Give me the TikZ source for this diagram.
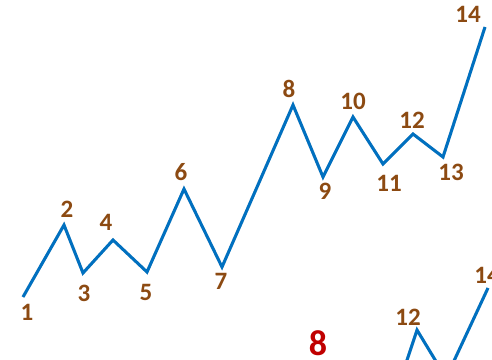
\documentclass[tikz,border=0pt]{standalone}
\usepackage{fontspec}
\setmainfont{Carlito}
\definecolor{waveblue}{HTML}{0070C0}
\definecolor{labelbrown}{HTML}{8C4A12}
\definecolor{markred}{HTML}{C00000}
\tikzset{
    wave/.style={line width=3pt, waveblue, line join=miter},
    waveshadow/.style={line width=3pt, black!15, shift={(2.5,-2.5)}},
    lbl/.style={font=\bfseries\fontsize{25}{26}\selectfont, text=labelbrown, inner sep=0pt},
}
\begin{document}
\begin{tikzpicture}[x=1pt,y=1pt]
    \useasboundingbox (0,0) rectangle (492,359);
    \clip (0,0) rectangle (492,359);
    % turning points of the upper wave
    \coordinate (p1) at (23,62);
    \coordinate (p2) at (64,134);
    \coordinate (p3) at (83,86);
    \coordinate (p4) at (113,119);
    \coordinate (p5) at (147,87);
    \coordinate (p6) at (184,170);
    \coordinate (p7) at (222,92);
    \coordinate (p8) at (293,254);
    \coordinate (p9) at (323,182);
    \coordinate (p10) at (353,242);
    \coordinate (p11) at (383,195);
    \coordinate (p12) at (413,225);
    \coordinate (p13) at (443,202);
    \coordinate (p14) at (485,332);
    % second wave, cut off at the bottom
    \coordinate (q11) at (406,-4);
    \coordinate (q12) at (417,29);
    \coordinate (q13) at (437,-4);
    \coordinate (q13b) at (453,-4);
    \coordinate (q14) at (488,71);
    % shadow
    \draw[waveshadow] (p1) -- (p2) -- (p3) -- (p4) -- (p5) -- (p6) -- (p7)
        -- (p8) -- (p9) -- (p10) -- (p11) -- (p12) -- (p13) -- (p14);
    \draw[waveshadow] (q11) -- (q12) -- (q13);
    \draw[waveshadow] (q13b) -- (q14);
    % waves
    \draw[wave] (p1) -- (p2) -- (p3) -- (p4) -- (p5) -- (p6) -- (p7)
        -- (p8) -- (p9) -- (p10) -- (p11) -- (p12) -- (p13) -- (p14);
    \draw[wave] (q11) -- (q12) -- (q13);
    \draw[wave] (q13b) -- (q14);
    % point numbers
    \node[lbl] (n1) at (27,47) {1};
    \node[lbl] (n2) at (67,150) {2};
    \node[lbl] (n3) at (84,66) {3};
    \node[lbl] (n4) at (106,137) {4};
    \node[lbl] (n5) at (146,67) {5};
    \node[lbl] (n6) at (181,187) {6};
    \node[lbl] (n7) at (221,78) {7};
    \node[lbl] (n8) at (289,270) {8};
    \node[lbl] (n9) at (325,168) {9};
    \node[lbl] (n10) at (353,258) {10};
    \node[lbl] (n11) at (389,176) {11};
    \node[lbl] (n12) at (412,239) {12};
    \node[lbl] (n13) at (451,187) {13};
    \node[lbl] (n14) at (468,345) {14};
    \node[lbl] (m12) at (408,42) {12};
    \node[lbl] (m14) at (487,84) {14};
    % figure number
    \node[lbl, text=markred, font=\bfseries\fontsize{36}{38}\selectfont] (fig8) at (318,16) {8};
\end{tikzpicture}
\end{document}
